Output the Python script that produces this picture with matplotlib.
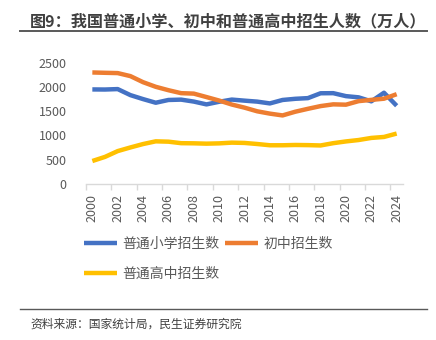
import matplotlib
matplotlib.use("Agg")
import matplotlib.pyplot as plt
from matplotlib.lines import Line2D

plt.rcParams['font.family'] = ['Noto Sans CJK SC', 'DejaVu Sans']

years = list(range(2000, 2025))
primary = [1946, 1944, 1953, 1829, 1747, 1672, 1729, 1736, 1696, 1638, 1692, 1737, 1715,
           1695, 1658, 1729, 1753, 1767, 1867, 1869, 1808, 1783, 1701, 1878, 1610]
junior = [2295, 2288, 2282, 2220, 2095, 2000, 1930, 1869, 1860, 1789, 1717, 1635, 1571,
          1496, 1448, 1411, 1487, 1547, 1603, 1639, 1632, 1705, 1731, 1755, 1848]
senior = [473, 558, 677, 752, 822, 878, 871, 840, 837, 830, 836, 851, 845,
          823, 797, 797, 803, 800, 793, 840, 876, 905, 948, 968, 1038]
series_names = ['普通小学招生数', '初中招生数', '普通高中招生数']
colors = ['#4472C4', '#ED7D31', '#FFC000']
yticks = [0, 500, 1000, 1500, 2000, 2500]

W, H = 436, 340
fig = plt.figure(figsize=(W / 100, H / 100), dpi=100)
ax = fig.add_axes([86 / W, 1 - 184 / H, (403 - 86) / W, (184 - 62.5) / H])

x = list(range(len(years)))
lines = []
for vals, c, n in zip([primary, junior, senior], colors, series_names):
    l, = ax.plot(x, vals, color=c, lw=3.2, label=n, solid_capstyle='butt')
    lines.append(l)

ax.set_xlim(-0.5, len(years) - 0.5)
ax.set_ylim(0, 2500)
ax.set_yticks(yticks)
ax.set_yticklabels([str(v) for v in yticks])
ax.set_xticks(x[::2])
ax.set_xticklabels([str(y) for y in years[::2]], rotation=90)
ax.set_xticks([i - 0.5 for i in range(0, len(years) + 1, 2)], minor=True)
ax.tick_params(axis='x', which='major', length=0, pad=7, labelsize=9, colors='#595959')
ax.tick_params(axis='x', which='minor', length=4, color='#d9d9d9', width=1)
ax.tick_params(axis='y', length=0, pad=14, labelsize=9, colors='#595959')
for s in ['top', 'right', 'left']:
    ax.spines[s].set_visible(False)
ax.spines['bottom'].set_color('#d9d9d9')
ax.spines['bottom'].set_linewidth(1)

# legend ordered so rows are: blue, orange / yellow
handles = [lines[0], lines[2], lines[1]]
labels = [series_names[0], series_names[2], series_names[1]]
leg = fig.legend(handles, labels, ncol=2, frameon=False, fontsize=10,
                 loc='upper left', bbox_to_anchor=(84 / W, 1 - 237 / H),
                 handlelength=2.4, handletextpad=0.35, columnspacing=0.4,
                 labelspacing=1.15, borderaxespad=0, borderpad=0)
for t in leg.get_texts():
    t.set_color('#595959')

# title
fig.text(30 / W, 1 - 21 / H, '图9：我国普通小学、初中和普通高中招生人数（万人）',
         fontsize=11.6, fontweight='bold', color='#404040', va='center', ha='left')
fig.add_artist(Line2D([20 / W, 427 / W], [1 - 31 / H, 1 - 31 / H], color='#595959', lw=1.4))

# footer
fig.add_artist(Line2D([20 / W, 427 / W], [1 - 309 / H, 1 - 309 / H], color='#595959', lw=1.0))
fig.text(30 / W, 1 - 324 / H, '资料来源：国家统计局，民生证券研究院',
         fontsize=8.5, color='#404040', va='center', ha='left')

fig.savefig('out.png', dpi=100)
